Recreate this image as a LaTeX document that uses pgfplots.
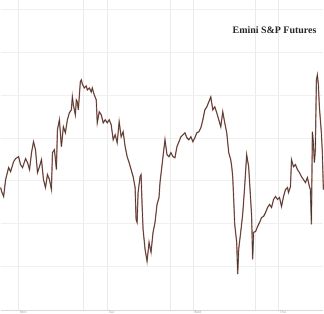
\documentclass[border=0pt]{standalone}
\usepackage{pgfplots}
\pgfplotsset{compat=1.18}
\usepackage{fontspec}
\setmainfont{Liberation Serif}
\newfontfamily\labfont{Liberation Sans}
\definecolor{gridc}{HTML}{EAEAEA}
\definecolor{candred}{HTML}{A84A38}
\definecolor{canddark}{HTML}{3A3A3A}
\pgfplotstableread{
x y
0 188
1 192
3 197
5 180
8 168
10 172
13 162
15 159
18 157
20 165
22 168
25 159
27 163
29 170
31 153
33 142
35 150
37 173
39 167
41 160
43 180
45 188
47 175
49 180
51 190
52 153
54 150
56 170
57 130
59 120
61 147
63 127
65 133
67 120
69 113
71 110
72 97
73 105
75 115
76 100
77 102
78 110
80 82
81 80
82 84
84 88
86 86
87 90
89 88
91 92
92 88
94 95
96 100
97 123
99 112
101 115
103 123
105 120
107 123
109 120
111 125
113 140
115 135
117 143
119 122
121 137
123 132
125 147
127 157
129 163
131 170
133 177
135 188
136 220
137 223
138 193
140 177
141 175
142 205
143 230
145 250
147 262
149 243
151 253
153 233
155 223
157 205
159 198
160 183
163 157
165 140
167 155
169 157
171 153
173 157
175 158
177 147
179 142
181 137
183 135
185 133
187 138
189 140
191 137
193 142
195 138
197 133
199 132
201 128
203 120
205 110
207 107
209 102
211 97
213 110
215 107
217 113
219 120
221 127
223 112
225 123
227 133
229 153
231 160
232 167
233 177
234 200
235 225
237 243
238 275
239 250
241 233
243 215
245 187
247 155
249 167
251 200
252 217
253 260
254 233
256 232
258 227
260 223
262 218
264 217
266 213
268 208
270 205
272 208
274 200
276 197
278 200
280 198
282 207
284 197
286 190
288 188
289 193
291 187
292 160
294 167
296 165
298 170
300 173
302 177
304 180
306 183
308 178
310 187
311 190
312 225
313 132
314 143
315 163
316 150
317 80
318 75
319 85
320 107
322 133
323 153
324 190
}\prices
\begin{document}
\begin{tikzpicture}
\begin{axis}[
  scale only axis,
  width=324bp, height=311bp,
  xmin=0, xmax=324, ymin=0, ymax=311,
  y dir=reverse,
  axis lines=none,
  clip=false,
  xtick=\empty, ytick=\empty,
]
% grid
\foreach \gx in {18,83,107,170,193,256,279} {
  \edef\tmp{\noexpand\draw[gridc, line width=0.6pt] (axis cs:\gx,0) -- (axis cs:\gx,311);}\tmp
}
\foreach \gy in {9,52,95,138,181,224,267} {
  \edef\tmp{\noexpand\draw[gridc!70, line width=0.5pt] (axis cs:0,\gy) -- (axis cs:324,\gy);}\tmp
}
\draw[gray!30, line width=0.5pt] (axis cs:0,311) -- (axis cs:324,311);
\addplot[candred, line width=1.3pt, opacity=0.75] table[x=x,y=y] {\prices};
\addplot[canddark, line width=0.6pt] table[x=x,y=y] {\prices};
\node[font=\bfseries\fontsize{10}{11}\selectfont, text=black!85] at (axis cs:275,30) {Emini S\&P Futures};
\foreach \lx/\lt in {19/Mon,108/Tue,194/Wed,280/Thu} {
  \edef\tmp{\noexpand\node[anchor=north west, inner sep=0pt, font=\noexpand\labfont\noexpand\fontsize{3.5}{4}\noexpand\selectfont, text=gray!70] at (axis cs:\lx,312) {\lt};}\tmp
}
\end{axis}
\end{tikzpicture}
\end{document}
